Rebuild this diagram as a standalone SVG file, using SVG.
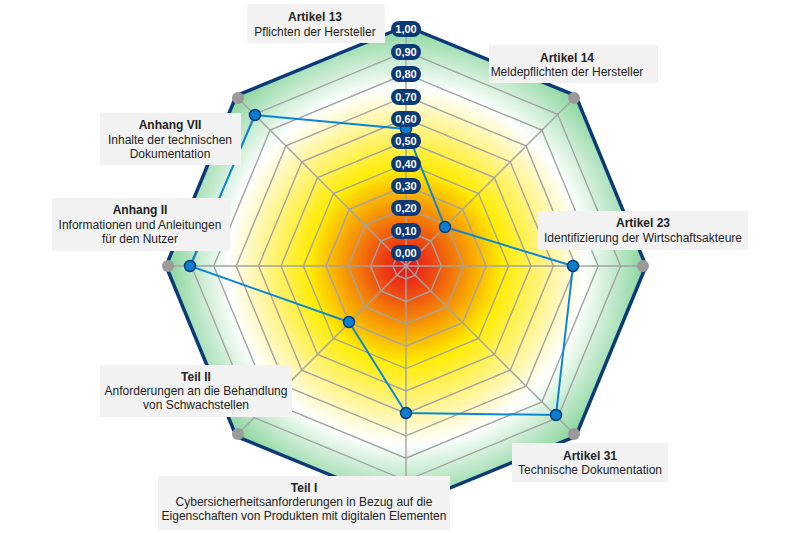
<svg xmlns="http://www.w3.org/2000/svg" width="800" height="533" viewBox="0 0 800 533">
<defs>
<radialGradient id="bg" gradientUnits="userSpaceOnUse" cx="406" cy="266" r="240">
<stop offset="0" stop-color="#e8101a"/>
<stop offset="0.12" stop-color="#ee4a12"/>
<stop offset="0.28" stop-color="#f8a800"/>
<stop offset="0.4" stop-color="#ffec00"/>
<stop offset="0.6" stop-color="#fff59a"/>
<stop offset="0.74" stop-color="#ffffff"/>
<stop offset="1" stop-color="#86d49a"/>
</radialGradient>
<style>
.grid{fill:none;stroke:#a3a3a3;stroke-width:1.4}
.pill{fill:#0b3a78}
.pv{font:bold 11px "Liberation Sans",Arial,sans-serif;fill:#fff;text-anchor:middle}
.box{fill:#f2f2f2}
.t{font:12px "Liberation Sans",Arial,sans-serif;fill:#222;text-anchor:middle}
.b{font-weight:bold}
.gd{fill:#9a9a9a}
.dp{fill:#0a7fd0;stroke:#0a3d7a;stroke-width:1.5}
</style>
</defs>
<g id="chart">
<polygon points="406,26 575.7,95.7 646,266 575.7,436.3 406,506 236.3,436.3 166,266 236.3,95.7" fill="url(#bg)" stroke="#0b3a78" stroke-width="3.5" stroke-linejoin="round"/>
<g id="rings" class="grid">
<polygon points="406,253 415.2,256.8 419,266 415.2,275.2 406,279 396.8,275.2 393,266 396.8,256.8"/>
<polygon points="406,230.6 431,241 441.4,266 431,291 406,301.4 381,291 370.6,266 381,241"/>
<polygon points="406,208.2 446.9,225.1 463.8,266 446.9,306.9 406,323.8 365.1,306.9 348.2,266 365.1,225.1"/>
<polygon points="406,185.8 462.7,209.3 486.2,266 462.7,322.7 406,346.2 349.3,322.7 325.8,266 349.3,209.3"/>
<polygon points="406,163.4 478.5,193.5 508.6,266 478.5,338.5 406,368.6 333.5,338.5 303.4,266 333.5,193.5"/>
<polygon points="406,141 494.4,177.6 531,266 494.4,354.4 406,391 317.6,354.4 281,266 317.6,177.6"/>
<polygon points="406,118.6 510.2,161.8 553.4,266 510.2,370.2 406,413.4 301.8,370.2 258.6,266 301.8,161.8"/>
<polygon points="406,96.2 526.1,145.9 575.8,266 526.1,386.1 406,435.8 285.9,386.1 236.2,266 285.9,145.9"/>
<polygon points="406,73.8 541.9,130.1 598.2,266 541.9,401.9 406,458.2 270.1,401.9 213.8,266 270.1,130.1"/>
<polygon points="406,51.4 557.7,114.3 620.6,266 557.7,417.7 406,480.6 254.3,417.7 191.4,266 254.3,114.3"/>
<path d="M406,266V29M406,266L573.6,98.4M406,266H643M406,266L573.6,433.6M406,266V503M406,266L238.4,433.6M406,266H169M406,266L238.4,98.4"/>
</g>
</g>
<g id="connectors">
<polygon points="406,129 445,227 573,266 556,415 406,413 349,322 190,266 255,115" fill="none" stroke="#0a86d6" stroke-width="2"/>
</g>
<g id="points">
<circle class="dp" cx="406" cy="129" r="5.5"/><circle class="dp" cx="445" cy="227" r="5.5"/><circle class="dp" cx="573" cy="266" r="5.5"/><circle class="dp" cx="556" cy="415" r="5.5"/><circle class="dp" cx="406" cy="413" r="5.5"/><circle class="dp" cx="349" cy="322" r="5.5"/><circle class="dp" cx="190" cy="266" r="5.5"/><circle class="dp" cx="255" cy="115" r="5.5"/>
</g>
<g id="scale">
<rect class="pill" x="391" y="21" width="30" height="16" rx="8"/><text class="pv" x="406" y="33">1,00</text>
<rect class="pill" x="391" y="44" width="30" height="16" rx="8"/><text class="pv" x="406" y="56">0,90</text>
<rect class="pill" x="391" y="66" width="30" height="16" rx="8"/><text class="pv" x="406" y="78">0,80</text>
<rect class="pill" x="391" y="89" width="30" height="16" rx="8"/><text class="pv" x="406" y="101">0,70</text>
<rect class="pill" x="391" y="111" width="30" height="16" rx="8"/><text class="pv" x="406" y="123">0,60</text>
<rect class="pill" x="391" y="133" width="30" height="16" rx="8"/><text class="pv" x="406" y="145">0,50</text>
<rect class="pill" x="391" y="156" width="30" height="16" rx="8"/><text class="pv" x="406" y="168">0,40</text>
<rect class="pill" x="391" y="178" width="30" height="16" rx="8"/><text class="pv" x="406" y="190">0,30</text>
<rect class="pill" x="391" y="200" width="30" height="16" rx="8"/><text class="pv" x="406" y="212">0,20</text>
<rect class="pill" x="391" y="223" width="30" height="16" rx="8"/><text class="pv" x="406" y="235">0,10</text>
<rect class="pill" x="391" y="245" width="30" height="16" rx="8"/><text class="pv" x="406" y="257">0,00</text>
</g>
<g id="n-art13"><rect class="box" x="247" y="4" width="138" height="39"/><text class="t b" x="315" y="21">Artikel 13</text><text class="t" x="315" y="36">Pflichten der Hersteller</text></g>
<g id="n-art14"><rect class="box" x="489" y="45" width="169" height="38"/><text class="t b" x="567" y="62">Artikel 14</text><text class="t" x="567" y="76">Meldepflichten der Hersteller</text></g>
<g id="n-art23"><rect class="box" x="538" y="211" width="210" height="39"/><text class="t b" x="643" y="227">Artikel 23</text><text class="t" x="643" y="242">Identifizierung der Wirtschaftsakteure</text></g>
<g id="n-art31"><rect class="box" x="512" y="443" width="156" height="39"/><text class="t b" x="590" y="460">Artikel 31</text><text class="t" x="590" y="474">Technische Dokumentation</text></g>
<g id="n-teil1"><rect class="box" x="158" y="476" width="292" height="54"/><text class="t b" x="304" y="492">Teil I</text><text class="t" x="304" y="506">Cybersicherheitsanforderungen in Bezug auf die</text><text class="t" x="304" y="520">Eigenschaften von Produkten mit digitalen Elementen</text></g>
<g id="n-teil2"><rect class="box" x="100" y="365" width="192" height="52"/><text class="t b" x="196" y="381">Teil II</text><text class="t" x="196" y="395">Anforderungen an die Behandlung</text><text class="t" x="196" y="409">von Schwachstellen</text></g>
<g id="n-anh2"><rect class="box" x="52" y="198" width="178" height="53"/><text class="t b" x="140" y="214">Anhang II</text><text class="t" x="140" y="229">Informationen und Anleitungen</text><text class="t" x="140" y="243">für den Nutzer</text></g>
<g id="n-anh7"><rect class="box" x="100" y="113" width="141" height="52"/><text class="t b" x="170" y="129">Anhang VII</text><text class="t" x="170" y="144">Inhalte der technischen</text><text class="t" x="170" y="158">Dokumentation</text></g>
<g id="vertices">
<circle class="gd" cx="238" cy="98" r="6"/><circle class="gd" cx="574" cy="98" r="6"/><circle class="gd" cx="643" cy="266" r="6"/><circle class="gd" cx="574" cy="434" r="6"/><circle class="gd" cx="238" cy="434" r="6"/><circle class="gd" cx="168" cy="266" r="6"/>
</g>
</svg>
